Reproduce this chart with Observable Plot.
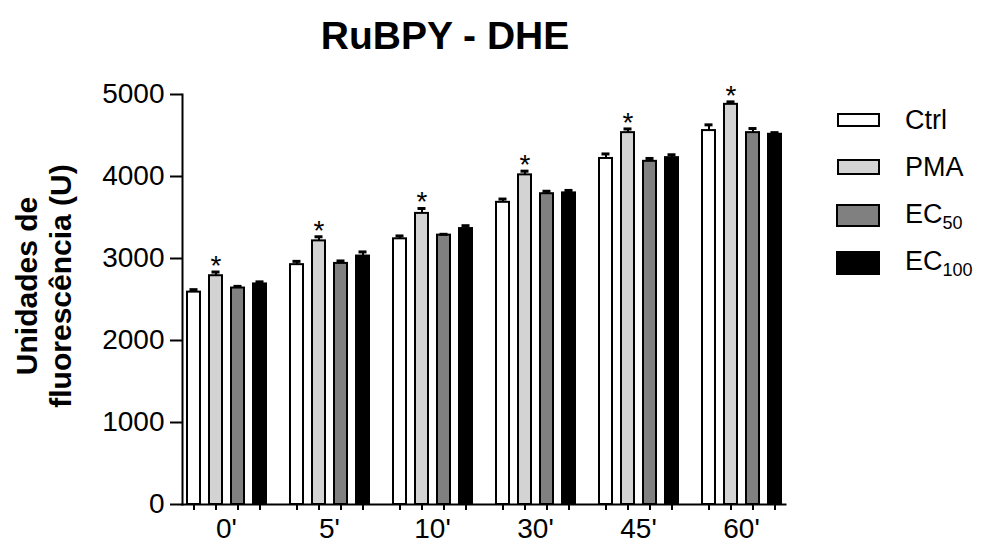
<!DOCTYPE html>
<html>
<head>
<meta charset="utf-8">
<script src="https://cdn.jsdelivr.net/npm/d3@7"></script>
<script src="https://cdn.jsdelivr.net/npm/@observablehq/plot@0.6"></script>
<style>
  body { margin: 0; background: #fff; font-family: "Liberation Sans", Arial, sans-serif; color: #000; }
  #wrap { position: relative; width: 982px; height: 550px; overflow: hidden; }
  #chart { position: absolute; left: 0; top: 0; }
  #title { position: absolute; left: 0; width: 890px; top: 16px; text-align: center;
           font-weight: bold; font-size: 39px; line-height: 39px; white-space: nowrap; }
  #ylab { position: absolute; width: 320px; height: 70px; left: -115.5px; top: 251px;
          text-align: center; font-weight: bold; font-size: 30px; line-height: 34px;
          transform: rotate(-90deg); white-space: nowrap; }
  .sw { position: absolute; box-sizing: border-box; border: 2px solid #000; }
  .lab { position: absolute; left: 905px; font-size: 27px; line-height: 27px; white-space: nowrap; }
  .lab sub { font-size: 18px; vertical-align: -6px; line-height: 0; }
</style>
</head>
<body>
<div id="wrap">
  <div id="chart"></div>
  <div id="title">RuBPY - DHE</div>
  <div id="ylab">Unidades de<br>fluorescência (U)</div>
  <div id="legend"></div>
</div>
<script>
// ---- data ----
const times = ["0'", "5'", "10'", "30'", "45'", "60'"];
const series = ["Ctrl", "PMA", "EC50", "EC100"];
const legendMain = ["Ctrl", "PMA", "EC", "EC"];
const legendSub = ["", "", "50", "100"];
const colors = ["#ffffff", "#d3d3d3", "#808080", "#000000"];

const ctrl     = [2590, 2925, 3240, 3685, 4220, 4560];
const ctrlErr  = [30, 40, 35, 40, 55, 70];
const pma      = [2790, 3215, 3550, 4020, 4535, 4880];
const pmaErr   = [45, 50, 60, 45, 45, 30];
const ec50     = [2640, 2940, 3285, 3790, 4185, 4535];
const ec50Err  = [20, 30, 10, 30, 35, 50];
const ec100    = [2690, 3030, 3365, 3800, 4230, 4515];
const ec100Err = [25, 50, 35, 30, 35, 20];
const pmaSignificant = [true, true, true, true, true, true];

const yTicks = [0, 1000, 2000, 3000, 4000, 5000];

// ---- build table ----
const values = [ctrl, pma, ec50, ec100];
const errors = [ctrlErr, pmaErr, ec50Err, ec100Err];
const rows = times.flatMap((t, i) => series.map((s, j) => ({
  time: t, series: s, value: values[j][i], err: errors[j][i], top: values[j][i] + errors[j][i],
  star: s === "PMA" && pmaSignificant[i]
})));
const starRows = rows.filter(d => d.star);

const font = "Liberation Sans, Arial, sans-serif";

const chart = Plot.plot({
  width: 982,
  height: 550,
  marginLeft: 179,
  marginRight: 195,
  marginTop: 94,
  marginBottom: 46,
  style: { fontFamily: font, fontSize: "28px", color: "#000", background: "transparent", overflow: "visible" },
  fx: { domain: times, paddingInner: 0.149, paddingOuter: 0, label: null },
  x: { domain: series, paddingInner: 0.412, paddingOuter: 0.206, label: null },
  y: { domain: [0, 5000], label: null },
  color: { domain: series, range: colors },
  marks: [
    Plot.barY(rows, { fx: "time", x: "series", y: "value", fill: "series", stroke: "#000", strokeWidth: 2 }),
    Plot.ruleX(rows, { fx: "time", x: "series", y1: "value", y2: "top", stroke: "#000", strokeWidth: 2 }),
    Plot.tickY(rows, { fx: "time", x: "series", y: "top", stroke: "#000", strokeWidth: 3, insetLeft: 2.5, insetRight: 2.5 }),
    Plot.text(starRows, { fx: "time", x: "series", y: "top", text: () => "*", fontSize: 28, dy: -6, fill: "#000" }),
    Plot.axisY({ ticks: yTicks, tickFormat: d => String(d), tickSize: 12, tickPadding: 6, strokeWidth: 2, fontSize: 28, label: null }),
    Plot.axisX({ tickFormat: null, tickSize: 6, strokeWidth: 2, label: null }),
    Plot.axisFx({ anchor: "bottom", tickSize: 0, tickPadding: 14, fontSize: 28, label: null }),
    Plot.frame({ anchor: "bottom", facet: "super", stroke: "#000", strokeWidth: 2 }),
    Plot.frame({ anchor: "left", facet: "super", stroke: "#000", strokeWidth: 2 })
  ]
});
document.getElementById("chart").appendChild(chart);

// ---- legend ----
const legendTop = [107, 154, 201, 248];
const swatchBox = [
  { left: 837, top: 113, w: 43, h: 14 },
  { left: 837, top: 159, w: 43, h: 16 },
  { left: 836, top: 204, w: 44, h: 23 },
  { left: 836, top: 251, w: 44, h: 24 }
];
const legend = document.getElementById("legend");
series.forEach((s, i) => {
  const sw = document.createElement("div");
  sw.className = "sw";
  const b = swatchBox[i];
  Object.assign(sw.style, { left: b.left + "px", top: b.top + "px", width: b.w + "px", height: b.h + "px", background: colors[i] });
  legend.appendChild(sw);
  const lab = document.createElement("div");
  lab.className = "lab";
  lab.style.top = legendTop[i] + "px";
  lab.textContent = legendMain[i];
  if (legendSub[i]) {
    const sub = document.createElement("sub");
    sub.textContent = legendSub[i];
    lab.appendChild(sub);
  }
  legend.appendChild(lab);
});
</script>
</body>
</html>
